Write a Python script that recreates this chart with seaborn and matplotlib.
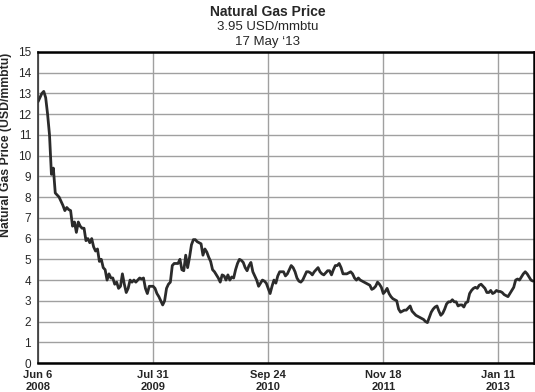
import numpy as np
import pandas as pd
import matplotlib
matplotlib.use("Agg")
import matplotlib.pyplot as plt
import seaborn as sns

# ---- data (weekly) ----
start_date = "2008-06-06"
prices = [
    12.6, 12.8, 13.0, 13.1, 12.8, 12.0, 11.0, 9.1, 9.4, 8.2,
    8.1, 8.0, 7.8, 7.6, 7.35, 7.5, 7.4, 7.35, 6.6, 6.8,
    6.3, 6.8, 6.6, 6.5, 6.5, 5.9, 6.0, 5.8, 6.0, 5.6,
    5.4, 5.5, 4.9, 5.0, 4.6, 4.5, 4.0, 4.3, 4.1, 4.1,
    3.8, 3.9, 3.6, 3.7, 4.3, 3.8, 3.4, 3.6, 4.0, 3.9,
    4.0, 3.9, 4.0, 4.1, 4.05, 4.1, 3.6, 3.35, 3.7, 3.7,
    3.7, 3.6, 3.35, 3.2, 3.0, 2.8, 3.0, 3.6, 3.8, 3.9,
    4.7, 4.8, 4.8, 4.8, 5.0, 4.5, 4.45, 5.2, 4.6, 5.1,
    5.7, 5.95, 5.95, 5.85, 5.8, 5.75, 5.2, 5.5, 5.35, 5.1,
    4.9, 4.5, 4.4, 4.25, 4.1, 3.9, 4.25, 4.2, 4.0, 4.25,
    4.0, 4.15, 4.1, 4.5, 4.8, 5.0, 4.95, 4.85, 4.6, 4.45,
    4.7, 4.85, 4.4, 4.2, 4.0, 3.7, 3.85, 4.0, 3.95, 3.85,
    3.6, 3.35, 3.7, 4.0, 3.85, 4.2, 4.4, 4.4, 4.4, 4.2,
    4.3, 4.5, 4.7, 4.6, 4.4, 4.1, 3.95, 3.9, 4.0, 4.2,
    4.4, 4.4, 4.35, 4.25, 4.4, 4.5, 4.6, 4.4, 4.3, 4.25,
    4.35, 4.45, 4.45, 4.25, 4.5, 4.7, 4.7, 4.8, 4.6, 4.3,
    4.3, 4.3, 4.35, 4.4, 4.3, 4.1, 4.0, 4.1, 4.0, 3.95,
    3.9, 3.85, 3.8, 3.75, 3.55, 3.6, 3.7, 3.9, 3.8, 3.65,
    3.35, 3.45, 3.6, 3.35, 3.2, 3.1, 3.05, 3.0, 2.6, 2.45,
    2.5, 2.55, 2.55, 2.65, 2.75, 2.5, 2.4, 2.3, 2.25, 2.2,
    2.15, 2.1, 2.0, 1.95, 2.2, 2.45, 2.6, 2.7, 2.75, 2.5,
    2.3, 2.4, 2.6, 2.85, 2.95, 2.95, 3.05, 2.95, 2.95, 2.75,
    2.8, 2.8, 2.7, 2.9, 2.95, 3.35, 3.5, 3.6, 3.65, 3.6,
    3.75, 3.8, 3.7, 3.6, 3.4, 3.4, 3.5, 3.35, 3.4, 3.5,
    3.45, 3.45, 3.4, 3.3, 3.25, 3.2, 3.35, 3.5, 3.65, 4.0,
    4.05, 4.0, 4.15, 4.3, 4.4, 4.3, 4.15, 4.0, 3.95,
]
tick_dates = ["2008-06-06", "2009-07-31", "2010-09-24", "2011-11-18", "2013-01-11"]
tick_labels = ["Jun 6\n2008", "Jul 31\n2009", "Sep 24\n2010", "Nov 18\n2011", "Jan 11\n2013"]
y_ticks = list(range(0, 16))
title_lines = ["Natural Gas Price", "3.95 USD/mmbtu", "17 May \u201813"]
y_label = "Natural Gas Price (USD/mmbtu)"

dates = pd.date_range(start_date, periods=len(prices), freq="7D")
df = pd.DataFrame({"date": dates, "price": prices})

sns.set_style("white")
plt.rcParams["font.family"] = ["Liberation Sans Narrow", "Liberation Sans", "DejaVu Sans"]

fig = plt.figure(figsize=(5.35, 3.92), dpi=100)
ax = fig.add_axes([38 / 535, 1 - 363 / 392, (534 - 38) / 535, (363 - 52) / 392])

sns.lineplot(data=df, x="date", y="price", ax=ax, color="#2b2b2b", linewidth=2.0)

ax.set_ylim(0, 15)
ax.set_yticks(y_ticks)
ax.set_xlim(pd.Timestamp(start_date), pd.Timestamp("2013-05-21"))
ax.set_xticks(pd.to_datetime(tick_dates))
ax.set_xticklabels(tick_labels, fontweight="bold", fontsize=8, linespacing=1.3)
ax.tick_params(axis="y", labelsize=8.5, length=4, width=0.8, pad=1, color="#333333")
ax.tick_params(axis="x", length=0, pad=5)
ax.grid(True, color="#a0a0a0", linewidth=1.0)
ax.set_axisbelow(True)
ax.set_xlabel("")
ax.set_ylabel(y_label, fontweight="bold", fontsize=8.8)
ax.yaxis.set_label_coords(-0.052, 0.70)

for side in ["top", "bottom", "right"]:
    ax.spines[side].set_visible(True)
    ax.spines[side].set_color("black")
    ax.spines[side].set_linewidth(1.8)
ax.spines["left"].set_color("#333333")
ax.spines["left"].set_linewidth(1.2)

fig.text(0.5, 1 - 12 / 392, title_lines[0], ha="center", va="center", fontweight="bold", fontsize=10)
fig.text(0.5, 1 - 27 / 392, title_lines[1], ha="center", va="center", fontsize=9.5)
fig.text(0.5, 1 - 42 / 392, title_lines[2], ha="center", va="center", fontsize=9.5)

fig.savefig("out.png", dpi=100)
